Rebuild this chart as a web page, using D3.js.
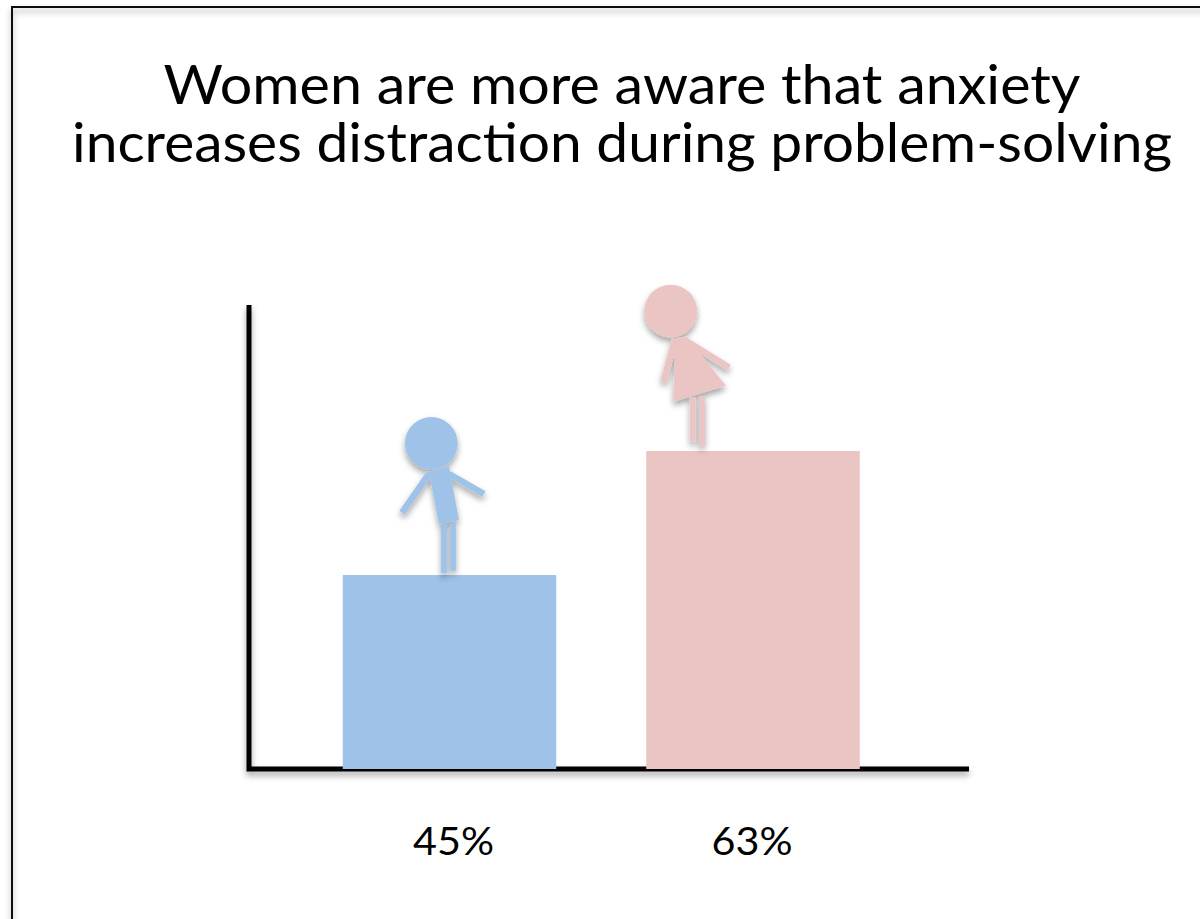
<!DOCTYPE html>
<html>
<head>
<meta charset="utf-8">
<script src="https://cdn.jsdelivr.net/npm/d3@7/dist/d3.min.js"></script>
<style>
  html, body { margin: 0; padding: 0; background: #fff; }
  svg { display: block; }
  text { font-family: Lato, "Open Sans", sans-serif; fill: #000; }
</style>
</head>
<body>
<svg id="chart" width="1200" height="919"></svg>
<script>
// Chart content
const titleLines = ["Women are more aware that anxiety", "increases distraction during problem-solving"];
const titleWidths = [917, 1100];
const groups = ["Men", "Women"];
const percentages = [45, 63];
const percentLabels = ["45%", "63%"];
const barColors = ["#9fc2e9", "#ebc4c4"];

const width = 1200, height = 919;
const svg = d3.select("#chart");

// Soft shadows used by the frame, axes, bars and figures
const defs = svg.append("defs");
const shadow = defs.append("filter").attr("id", "soft")
  .attr("x", "-30%").attr("y", "-20%").attr("width", "160%").attr("height", "140%");
shadow.append("feDropShadow")
  .attr("dx", 0).attr("dy", 4).attr("stdDeviation", 3)
  .attr("flood-color", "#000").attr("flood-opacity", 0.36);
const lineShadow = defs.append("filter").attr("id", "softLine")
  .attr("filterUnits", "userSpaceOnUse")
  .attr("x", 0).attr("y", 0).attr("width", width).attr("height", height);
lineShadow.append("feDropShadow")
  .attr("dx", 0).attr("dy", 4).attr("stdDeviation", 3)
  .attr("flood-color", "#000").attr("flood-opacity", 0.36);

// Frame, running off the right and bottom of the page
svg.append("path")
  .attr("d", `M12,${height + 10}V7H${width + 10}`)
  .attr("fill", "none").attr("stroke", "#111").attr("stroke-width", 2)
  .attr("filter", "url(#softLine)");

// Title
svg.append("g").selectAll("text").data(titleLines).join("text")
  .attr("x", 622)
  .attr("y", (d, i) => 103.5 + i * 58)
  .attr("text-anchor", "middle")
  .attr("font-size", 54)
  .attr("textLength", (d, i) => titleWidths[i])
  .attr("lengthAdjust", "spacingAndGlyphs")
  .text(d => d);

// The value axis starts above zero, so the bars sit on a truncated baseline
const y = d3.scaleLinear().domain([16.84, 84.2]).range([769, 305]);
const barX = d3.scalePoint().domain(groups).range([449.5, 753]);
const barWidth = 213.5;

// Axis lines, drawn first so the bars rest on top of them
svg.append("path")
  .attr("d", `M249,${y.range()[1]}V${y.range()[0]}H969`)
  .attr("fill", "none").attr("stroke", "#000").attr("stroke-width", 5)
  .attr("filter", "url(#softLine)");

// Bars
svg.append("g").selectAll("rect").data(groups).join("rect")
  .attr("x", d => barX(d) - barWidth / 2)
  .attr("y", (d, i) => y(percentages[i]))
  .attr("width", barWidth)
  .attr("height", (d, i) => y.range()[0] - y(percentages[i]))
  .attr("fill", (d, i) => barColors[i]);

// Value labels below the axis
svg.append("g").selectAll("text").data(groups).join("text")
  .attr("x", d => barX(d) + (d === "Men" ? 4 : -1))
  .attr("y", 855)
  .attr("text-anchor", "middle")
  .attr("font-size", 38)
  .attr("textLength", 81)
  .attr("lengthAdjust", "spacingAndGlyphs")
  .text((d, i) => percentLabels[i]);

// Figures standing on the bars; local coordinates run from the centre of each bar top
const figures = {
  Men: {
    head: [-18.2, -131.7, 26.4],
    arms: [[[-20, -102], [-47.5, -62.5]], [[-0.5, -101], [34.5, -81]]],
    legs: [[[-5.5, -52], [-5.5, -1.7]], [[3.5, -52], [3.5, -4.3]]],
    torso: [[-20.5, -103], [-0.5, -108.5], [9.5, -55], [-10.5, -50.5]]
  },
  Women: {
    head: [-82.3, -140, 26.4],
    arms: [[[-78, -112], [-89.5, -69.5]], [[-70, -112], [-24, -83.5]]],
    legs: [[[-60.3, -54], [-60.3, -9.3]], [[-51, -55], [-51, -5.3]]],
    torso: [[-78, -112.7], [-66.3, -114.3], [-27, -65.3], [-79.7, -49.3]]
  }
};

groups.forEach((g, i) => {
  const f = figures[g];
  const color = barColors[i];
  const line = d3.line();
  const fig = svg.append("g")
    .attr("transform", `translate(${barX(g)},${y(percentages[i])})`)
    .attr("filter", "url(#soft)");
  fig.selectAll("path.leg").data(f.legs).join("path").attr("class", "leg")
    .attr("d", line).attr("stroke", color).attr("stroke-width", 5.8).attr("fill", "none");
  fig.selectAll("path.arm").data(f.arms).join("path").attr("class", "arm")
    .attr("d", line).attr("stroke", color).attr("stroke-width", 6.5).attr("fill", "none");
  fig.append("path").attr("d", line(f.torso) + "Z").attr("fill", color);
  fig.append("circle")
    .attr("cx", f.head[0]).attr("cy", f.head[1]).attr("r", f.head[2])
    .attr("fill", color);
});
</script>
</body>
</html>
